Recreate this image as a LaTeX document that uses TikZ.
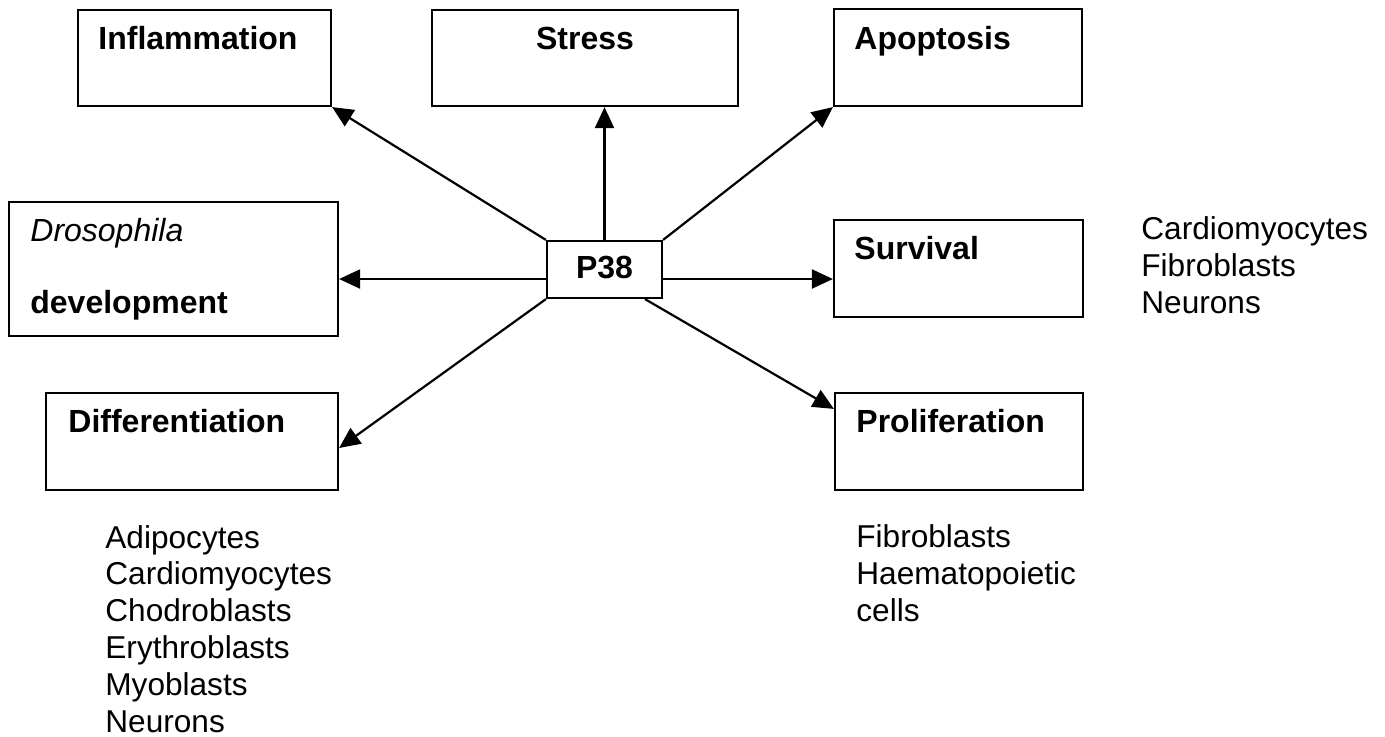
\documentclass[tikz,border=0pt]{standalone}
\usepackage{fontspec}
\setmainfont{Liberation Sans}
\usetikzlibrary{arrows.meta, positioning}

\begin{document}
\begin{tikzpicture}[
  x=0.5pt, y=-0.5pt,
  box/.style = {rectangle, draw=black, line width=1.1pt, inner sep=0pt},
  boxtext/.style = {font=\fontsize{16}{18.4}\selectfont\bfseries, inner sep=0pt, anchor=base west},
  celllist/.style = {font=\fontsize{15.8}{18.4}\selectfont, inner sep=0pt, anchor=base west, align=left},
  arrow/.style = {-{Triangle[length=10.5pt,width=9.5pt]}, line width=1.1pt}
]
\useasboundingbox (0,0) rectangle (1385,736);

% boxes
\node[box, minimum width=126.5pt, minimum height=48pt]   (inflam) at (204.5,58)  {};
\node[box, minimum width=153pt,   minimum height=48pt]   (stress) at (585,58)    {};
\node[box, minimum width=124pt,   minimum height=48.5pt] (apopt)  at (958,57.5)  {};
\node[box, minimum width=164.5pt, minimum height=67pt]   (droso)  at (173.5,269) {};
\node[box, minimum width=57.5pt,  minimum height=28.5pt] (ptt)    at (604.5,269.5) {};
\node[box, minimum width=124.5pt, minimum height=48.5pt] (surv)   at (958.5,268.5) {};
\node[box, minimum width=146pt,   minimum height=48.5pt] (diff)   at (192,441.5) {};
\node[box, minimum width=124pt,   minimum height=48.5pt] (prolif) at (959,441.5) {};

% box texts
\node[boxtext] (inflamtxt) at (98,49)  {Inflammation};
\node[boxtext, anchor=base] (stresstxt) at (585,49) {Stress};
\node[boxtext] (apopttxt)  at (854,49) {Apoptosis};
\node[boxtext, font=\fontsize{16}{18.4}\selectfont\itshape] (drosotxt) at (30,241) {Drosophila};
\node[boxtext] (devtxt)    at (30,313) {development};
\node[boxtext, anchor=base] (ptttxt) at (604.5,278) {P38};
\node[boxtext] (survtxt)   at (854,259) {Survival};
\node[boxtext] (difftxt)   at (68,432)  {Differentiation};
\node[boxtext] (proliftxt) at (856,432) {Proliferation};

% cell types (base = last line)
\node[celllist] (survcells)   at (1141,313) {Cardiomyocytes\\Fibroblasts\\Neurons};
\node[celllist] (diffcells)   at (105,732)  {Adipocytes\\Cardiomyocytes\\Chodroblasts\\Erythroblasts\\Myoblasts\\Neurons};
\node[celllist] (prolifcells) at (856,621.5) {Fibroblasts\\Haematopoietic\\cells};

% arrows
\draw[arrow] (ptt.north west) -- (inflam.south east);
\draw[arrow] (ptt.north) -- (ptt.north |- stress.south);
\draw[arrow] (ptt.north east) -- (apopt.south west);
\draw[arrow] ([yshift=-4.75pt]ptt.west) -- ([yshift=-4.75pt]ptt.west -| droso.east);
\draw[arrow] ([yshift=-4.75pt]ptt.east) -- ([yshift=-4.75pt]ptt.east -| surv.west);
\draw[arrow] (ptt.south west) -- ([yshift=-3.25pt]diff.east);
\draw[arrow] ([xshift=20.25pt]ptt.south) -- ([yshift=-8.5pt]prolif.north west);

\end{tikzpicture}
\end{document}
